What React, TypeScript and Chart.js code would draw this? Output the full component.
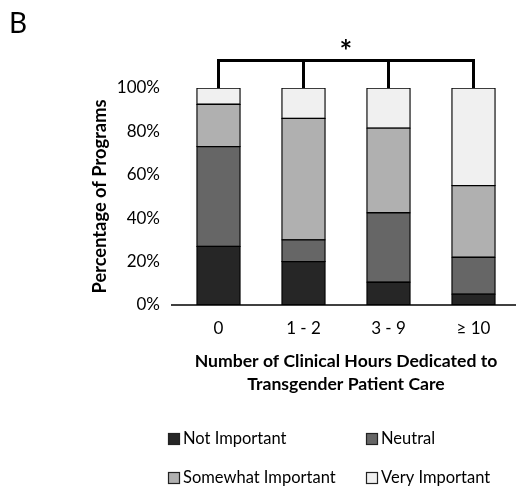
import React, { useEffect, useRef } from 'react';
import { Chart, registerables } from 'chart.js';

Chart.register(...registerables);

const categories = ['0', '1 - 2', '3 - 9', '\u2265 10'];
const seriesLabels = ['Not Important', 'Neutral', 'Somewhat Important', 'Very Important'];
const notImportant = [27, 20, 10.5, 5];
const neutral = [46, 10, 32, 17];
const somewhat = [19.5, 56, 39, 33];
const veryImportant = [7.5, 14, 18.5, 45];
const colors = ['#262626', '#666666', '#b0b0b0', '#f0f0f0'];
const yTicks = [0, 20, 40, 60, 80, 100];

const FONT = 'Lato, "Open Sans", sans-serif';

const extras = {
  id: 'extras',
  afterDraw(chart: any) {
    const ctx = chart.ctx;
    const x = chart.scales.x;
    const area = chart.chartArea;
    ctx.save();
    // Panel letter
    ctx.fillStyle = '#000';
    ctx.font = `28px ${FONT}`;
    ctx.textAlign = 'left';
    ctx.textBaseline = 'alphabetic';
    ctx.fillText('B', 9, 33);

    // axis line
    ctx.strokeStyle = '#000';
    ctx.lineWidth = 1.5;
    ctx.beginPath();
    ctx.moveTo(171, area.bottom);
    ctx.lineTo(area.right, area.bottom);
    ctx.stroke();

    // bracket
    const n = categories.length;
    const x0 = x.getPixelForValue(0);
    const x1 = x.getPixelForValue(n - 1);
    const yTop = 60.5;
    ctx.lineWidth = 3;
    ctx.beginPath();
    ctx.moveTo(x0, yTop);
    ctx.lineTo(x1, yTop);
    for (let i = 0; i < n; i++) {
      const px = x.getPixelForValue(i);
      ctx.moveTo(px, yTop - 1.5);
      ctx.lineTo(px, area.top);
    }
    ctx.stroke();
    ctx.font = `bold 30px ${FONT}`;
    ctx.textAlign = 'center';
    ctx.textBaseline = 'alphabetic';
    ctx.fillText('*', (x0 + x1) / 2, 62);

    // legend
    const pos = [
      [168, 439],
      [366, 439],
      [168, 478],
      [366, 478],
    ];
    ctx.font = `16.5px ${FONT}`;
    ctx.textAlign = 'left';
    ctx.textBaseline = 'middle';
    chart.data.datasets.forEach((ds: any, i: number) => {
      const [lx, ly] = pos[i];
      ctx.fillStyle = ds.backgroundColor;
      ctx.fillRect(lx, ly - 6, 12, 12);
      ctx.lineWidth = 1.2;
      ctx.strokeStyle = '#222';
      ctx.strokeRect(lx + 0.5, ly - 5.5, 11, 11);
      ctx.fillStyle = '#000';
      ctx.fillText(ds.label, lx + 15, ly);
    });
    ctx.restore();
  },
};

export default function App() {
  const ref = useRef<HTMLCanvasElement | null>(null);
  useEffect(() => {
    if (!ref.current) return;
    const data = [notImportant, neutral, somewhat, veryImportant];
    const chart = new Chart(ref.current, {
      type: 'bar',
      data: {
        labels: categories,
        datasets: data.map((d, i) => ({
          label: seriesLabels[i],
          data: d,
          backgroundColor: colors[i],
          borderColor: '#000',
          borderWidth: 1.3,
          borderSkipped: false,
          inflateAmount: 0.6,
          categoryPercentage: 1,
          barPercentage: 0.51,
        })),
      },
      options: {
        responsive: false,
        animation: false,
        layout: { padding: { left: 88, right: 0, top: 88, bottom: 92 } },
        plugins: { legend: { display: false }, tooltip: { enabled: false } },
        scales: {
          x: {
            stacked: true,
            grid: { display: false, drawTicks: false },
            border: { display: false },
            ticks: { color: '#000', font: { family: FONT, size: 17 }, padding: 13 },
            title: {
              display: true,
              text: ['Number of Clinical Hours Dedicated to', 'Transgender Patient Care'],
              color: '#000',
              font: { family: FONT, size: 17.6, weight: 'bold', lineHeight: 1.3 },
              padding: { top: 14, bottom: 0 },
            },
            afterFit: (s: any) => {
              s.height = 91;
            },
          },
          y: {
            stacked: true,
            min: 0,
            max: 100,
            afterBuildTicks: (s: any) => {
              s.ticks = yTicks.map((v) => ({ value: v }));
            },
            grid: { display: false, drawTicks: false },
            border: { display: false },
            ticks: {
              color: '#000',
              font: { family: FONT, size: 17 },
              padding: 16,
              callback: (v: any) => `${v}%`,
            },
            title: {
              display: true,
              text: 'Percentage of Programs',
              color: '#000',
              font: { family: FONT, size: 18.3, weight: 'bold' },
              padding: { top: 1, bottom: 0 },
            },
            afterFit: (s: any) => {
              s.width = 88;
            },
          },
        },
      },
      plugins: [extras],
    });
    return () => chart.destroy();
  }, []);
  return (
    <div style={{ position: 'absolute', left: 0, top: 0, width: 516, height: 488, background: '#fff' }}>
      <canvas ref={ref} width={516} height={488} />
    </div>
  );
}
